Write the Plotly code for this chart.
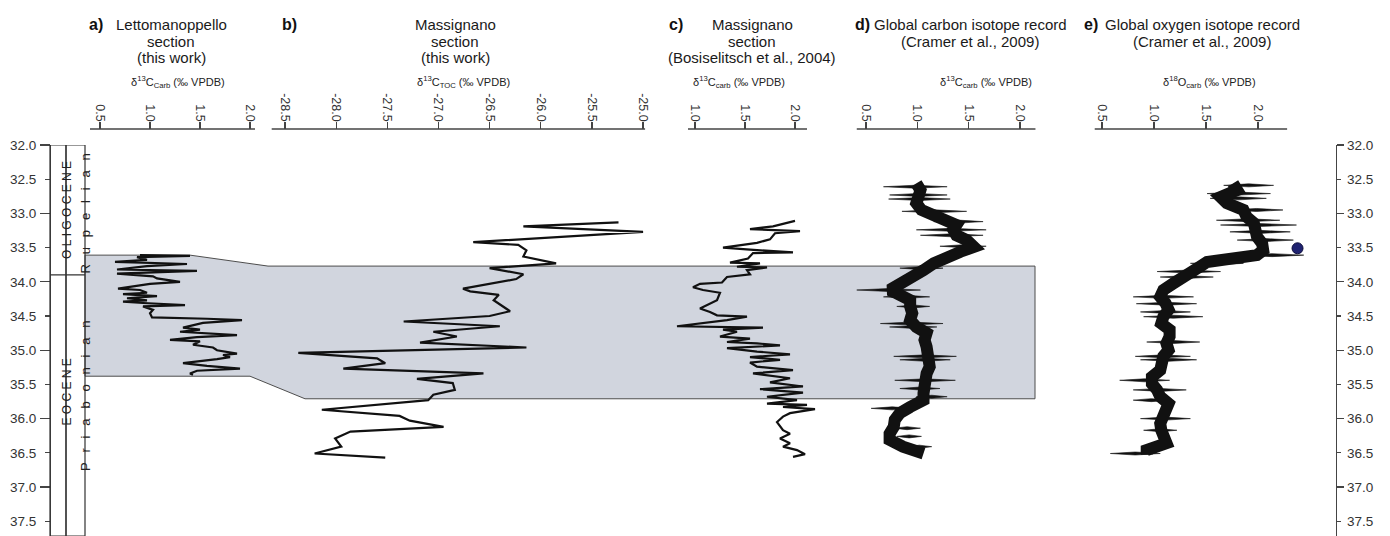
import plotly.graph_objects as go

# ---------------- data ----------------
depth_ticks = [32.0, 32.5, 33.0, 33.5, 34.0, 34.5, 35.0, 35.5, 36.0, 36.5, 37.0, 37.5]
depth_major = [32.0, 33.0, 34.0, 35.0, 36.0, 37.0]
depth_labels = ["32.0", "32.5", "33.0", "33.5", "34.0", "34.5", "35.0", "35.5", "36.0", "36.5", "37.0", "37.5"]

# a) Lettomanoppello d13C carb
lett_depth = [33.61, 33.62, 33.64, 33.68, 33.71, 33.72, 33.74, 33.77, 33.82, 33.84, 33.86, 33.88,
              33.92, 33.95, 34.00, 34.03, 34.10, 34.12, 34.16, 34.18, 34.21, 34.24, 34.27, 34.29,
              34.31, 34.34, 34.36, 34.41, 34.46, 34.52, 34.54, 34.56, 34.60, 34.67, 34.70, 34.73,
              34.78, 34.81, 34.85, 34.87, 34.92, 34.96, 35.00, 35.05, 35.07, 35.10, 35.13, 35.19,
              35.23, 35.27, 35.30, 35.34, 35.36]
lett_d13c = [0.90, 1.40, 0.87, 0.97, 0.65, 0.93, 1.37, 0.97, 0.67, 1.47, 1.07, 0.67,
             1.03, 1.07, 1.30, 1.00, 0.68, 0.90, 0.97, 0.73, 1.07, 0.77, 0.97, 0.73,
             0.93, 1.35, 0.93, 1.03, 1.00, 1.02, 1.57, 1.92, 1.53, 1.33, 1.50, 1.30,
             1.87, 1.47, 1.20, 1.50, 1.43, 1.63, 1.67, 1.87, 1.73, 1.80, 1.67, 1.33,
             1.57, 1.90, 1.47, 1.40, 1.43]

# b) Massignano d13C TOC
mass_depth = [33.13, 33.19, 33.27, 33.42, 33.46, 33.54, 33.63, 33.73, 33.80, 33.89, 33.96, 34.10,
              34.14, 34.19, 34.27, 34.43, 34.50, 34.58, 34.65, 34.73, 34.80, 34.89, 34.96, 35.04,
              35.12, 35.19, 35.27, 35.34, 35.42, 35.48, 35.58, 35.65, 35.73, 35.87, 35.96, 36.03,
              36.12, 36.19, 36.29, 36.41, 36.51, 36.57]
mass_d13c_toc = [-25.24, -26.17, -25.00, -26.66, -26.22, -26.14, -26.17, -25.85, -26.50, -26.17, -26.24, -26.76,
                 -26.69, -26.41, -26.46, -26.30, -26.50, -27.34, -26.40, -27.05, -26.82, -27.18, -26.14, -28.37,
                 -27.60, -27.52, -27.93, -26.56, -27.21, -26.86, -26.84, -27.05, -27.10, -28.14, -27.38, -27.28,
                 -26.95, -27.86, -28.01, -27.95, -28.21, -27.52]

# c) Massignano d13C carb (Bosiselitsch et al., 2004)
bosi_depth = [33.11, 33.19, 33.23, 33.26, 33.29, 33.38, 33.43, 33.50, 33.53, 33.57, 33.58, 33.66,
              33.72, 33.73, 33.78, 33.79, 33.83, 33.89, 33.93, 34.01, 34.03, 34.08, 34.12, 34.16,
              34.27, 34.39, 34.44, 34.49, 34.51, 34.56, 34.65, 34.67, 34.70, 34.73, 34.80, 34.83,
              34.88, 34.90, 34.93, 34.97, 35.02, 35.06, 35.10, 35.14, 35.18, 35.24, 35.29, 35.34,
              35.41, 35.47, 35.53, 35.57, 35.62, 35.68, 35.73, 35.78, 35.80, 35.83, 35.86, 35.92,
              35.97, 36.05, 36.17, 36.22, 36.29, 36.36, 36.41, 36.46, 36.52, 36.56]
bosi_d13c = [2.00, 1.78, 1.55, 2.05, 1.80, 1.75, 1.62, 1.28, 1.55, 1.98, 1.58, 1.53,
             1.35, 1.65, 1.42, 1.72, 1.52, 1.55, 1.32, 1.27, 1.05, 0.98, 1.08, 1.25,
             1.22, 1.05, 1.15, 1.22, 1.52, 1.32, 0.82, 1.68, 1.28, 1.42, 1.25, 1.55,
             1.32, 1.62, 1.85, 1.32, 1.62, 1.95, 1.55, 1.85, 1.55, 1.62, 1.98, 1.58,
             1.95, 1.75, 2.08, 1.65, 2.08, 1.72, 2.02, 1.72, 2.12, 1.88, 2.20, 1.95,
             1.88, 1.82, 1.88, 1.95, 1.85, 1.95, 1.88, 2.02, 2.10, 1.98]

# d) Global carbon isotope record (Cramer et al., 2009): dense core + excursions
cramc_depth = [32.56, 32.66, 32.76, 32.85, 32.95, 33.02, 33.10, 33.17, 33.24, 33.32, 33.39, 33.49,
               33.56, 33.63, 33.73, 33.83, 33.93, 34.02, 34.12, 34.17, 34.27, 34.36, 34.46, 34.56,
               34.66, 34.75, 34.85, 34.95, 35.05, 35.14, 35.24, 35.34, 35.44, 35.53, 35.63, 35.73,
               35.83, 35.92, 36.02, 36.12, 36.22, 36.31, 36.41, 36.51]
cramc_d13c = [0.99, 1.03, 1.01, 0.99, 1.04, 1.16, 1.29, 1.38, 1.35, 1.38, 1.48, 1.55,
              1.42, 1.29, 1.16, 1.06, 0.96, 0.88, 0.73, 0.80, 0.93, 0.93, 0.95, 0.93,
              0.99, 1.09, 1.07, 1.09, 1.11, 1.11, 1.12, 1.09, 1.09, 1.07, 1.06, 1.06,
              0.93, 0.83, 0.78, 0.77, 0.73, 0.73, 0.86, 1.06]
cramc_spk_depth = [32.61, 32.73, 32.79, 32.97, 33.12, 33.24, 33.32, 33.48, 33.80, 34.12, 34.22, 34.36,
                   34.61, 34.66, 35.09, 35.14, 35.44, 35.56, 35.68, 35.85, 36.14, 36.26, 36.41]
cramc_spk_min = [0.67, 0.73, 0.72, 0.85, 1.16, 0.99, 1.03, 1.22, 0.83, 0.41, 0.67, 0.80,
                 0.64, 0.73, 0.77, 0.83, 0.78, 0.83, 0.99, 0.55, 0.77, 0.80, 0.90]
cramc_spk_max = [1.29, 1.29, 1.32, 1.48, 1.64, 1.67, 1.64, 1.67, 1.25, 1.03, 1.12, 1.12,
                 1.25, 1.19, 1.38, 1.32, 1.37, 1.22, 1.29, 0.96, 1.03, 1.04, 1.14]

# e) Global oxygen isotope record (Cramer et al., 2009)
cramo_depth = [32.56, 32.66, 32.76, 32.85, 32.95, 33.05, 33.14, 33.24, 33.34, 33.44, 33.54, 33.61,
               33.66, 33.71, 33.78, 33.85, 33.93, 34.02, 34.12, 34.22, 34.31, 34.41, 34.51, 34.61,
               34.70, 34.80, 34.90, 35.00, 35.09, 35.19, 35.29, 35.39, 35.49, 35.58, 35.68, 35.78,
               35.87, 35.97, 36.07, 36.17, 36.26, 36.36, 36.46, 36.53]
cramo_d18o = [1.76, 1.80, 1.64, 1.70, 1.86, 1.89, 1.96, 1.97, 1.99, 2.04, 2.05, 1.99,
              1.73, 1.51, 1.44, 1.35, 1.25, 1.19, 1.09, 1.06, 1.11, 1.14, 1.09, 1.07,
              1.15, 1.15, 1.12, 1.14, 1.09, 1.07, 1.06, 0.98, 0.98, 1.03, 1.06, 1.14,
              1.11, 1.09, 1.06, 1.07, 1.11, 1.12, 0.93, 0.93]
cramo_spk_depth = [32.59, 32.71, 32.78, 32.95, 33.10, 33.17, 33.27, 33.39, 33.61, 33.66, 33.73, 33.85,
                   33.93, 34.22, 34.32, 34.44, 34.51, 34.88, 35.09, 35.14, 35.44, 35.58, 35.73, 36.00,
                   36.17, 36.51]
cramo_spk_min = [1.67, 1.51, 1.54, 1.73, 1.60, 1.64, 1.73, 1.80, 1.83, 1.51, 1.35, 1.03,
                 1.06, 0.80, 0.83, 0.87, 0.90, 0.93, 0.82, 0.87, 0.67, 0.80, 0.80, 0.87,
                 0.90, 0.58]
cramo_spk_max = [2.15, 2.12, 2.08, 2.24, 2.21, 2.37, 2.31, 2.34, 2.44, 2.02, 1.86, 1.64,
                 1.57, 1.38, 1.41, 1.35, 1.47, 1.44, 1.35, 1.41, 1.15, 1.31, 1.15, 1.35,
                 1.22, 1.06]
eot_point_depth = [33.51]
eot_point_d18o = [2.38]

# stratigraphy / correlation band
epoch_boundary = 33.9
band_lett = [33.61, 35.38]      # top, base in Lettomanoppello
band_mass = [33.77, 35.71]      # top, base in Massignano / global records

# ---------------- layout helpers ----------------
W, H = 1390, 536
ML, MR, MT, MB = 50, 54, 129, 0
PW = W - ML - MR
PH = H - MT - MB
FONT = "Liberation Sans, Arial, sans-serif"
Y_BOTTOM = 37.716
Y_TOP = 32.0
YDOM = [0, (H - MB - 145) / PH]
SPIKE_HALF = 0.022   # half-thickness (in depth units) of the tapered excursion marks

def fx(px):
    return (px - ML) / PW

def fy(py):
    return (H - MB - py) / PH

fig = go.Figure()
LC = "#111111"

fig.add_trace(go.Scatter(x=lett_d13c, y=lett_depth, xaxis="x", yaxis="y", mode="lines",
                         line=dict(color=LC, width=2.2), hoverinfo="skip"))
fig.add_trace(go.Scatter(x=mass_d13c_toc, y=mass_depth, xaxis="x2", yaxis="y", mode="lines",
                         line=dict(color=LC, width=2.2), hoverinfo="skip"))
fig.add_trace(go.Scatter(x=bosi_d13c, y=bosi_depth, xaxis="x3", yaxis="y", mode="lines",
                         line=dict(color=LC, width=2.2), hoverinfo="skip"))


def spikes(depths, lo, hi):
    # tapered (diamond) excursion marks: thin at both tips, thicker in the middle
    xs, ys = [], []
    for d, a, b in zip(depths, lo, hi):
        m = (a + b) / 2
        xs += [a, m, b, m, a, None]
        ys += [d, d - SPIKE_HALF, d, d + SPIKE_HALF, d, None]
    return xs, ys

sx, sy = spikes(cramc_spk_depth, cramc_spk_min, cramc_spk_max)
fig.add_trace(go.Scatter(x=sx, y=sy, xaxis="x4", yaxis="y", mode="lines", fill="toself",
                         fillcolor=LC, line=dict(color=LC, width=0.6), hoverinfo="skip"))
fig.add_trace(go.Scatter(x=cramc_d13c, y=cramc_depth, xaxis="x4", yaxis="y", mode="lines",
                         line=dict(color=LC, width=12), hoverinfo="skip"))

sx, sy = spikes(cramo_spk_depth, cramo_spk_min, cramo_spk_max)
fig.add_trace(go.Scatter(x=sx, y=sy, xaxis="x5", yaxis="y", mode="lines", fill="toself",
                         fillcolor=LC, line=dict(color=LC, width=0.6), hoverinfo="skip"))
fig.add_trace(go.Scatter(x=cramo_d18o, y=cramo_depth, xaxis="x5", yaxis="y", mode="lines",
                         line=dict(color=LC, width=12), hoverinfo="skip"))
fig.add_trace(go.Scatter(x=eot_point_d18o, y=eot_point_depth, xaxis="x5", yaxis="y", mode="markers",
                         marker=dict(color="#1f2270", size=11, line=dict(color="#0b0b3a", width=1)),
                         hoverinfo="skip"))

# ---------------- axes ----------------
panels = [
    ("xaxis", (85, 262), [0.35, 2.12], [0.5, 1.0, 1.5, 2.0], [0.40, 2.05]),
    ("xaxis2", (262, 660), [-28.7248, -24.8343], [-28.5, -28.0, -27.5, -27.0, -26.5, -26.0, -25.5, -25.0], [-28.63, -24.98]),
    ("xaxis3", (660, 840), [0.65, 2.45], [1.0, 1.5, 2.0], [0.93, 2.12]),
    ("xaxis4", (840, 1060), [0.2468, 2.389], [0.5, 1.0, 1.5, 2.0], [0.41, 2.15]),
    ("xaxis5", (1060, 1336), [0.0962, 2.75], [0.5, 1.0, 1.5, 2.0], [0.43, 2.28]),
]
shapes = []
for name, (p0, p1), rng, tv, ext in panels:
    fig.layout[name] = dict(
        domain=[fx(p0), fx(p1)], range=rng, anchor="free", position=1.0, side="top",
        showgrid=False, zeroline=False, showline=False, ticks="outside", ticklen=7,
        tickwidth=1.2, tickcolor="#444", tickvals=tv, ticktext=["%.1f" % v for v in tv],
        tickangle=90, tickfont=dict(family=FONT, size=12.5, color="#333"), fixedrange=True,
        automargin=False, ticklabelstandoff=-4,
    )
    ref = "x" if name == "xaxis" else "x" + name[-1]
    shapes.append(dict(type="line", xref=ref, yref="paper", x0=ext[0], x1=ext[1], y0=1, y1=1,
                       line=dict(color="#444", width=1.4), layer="above"))

common_y = dict(range=[Y_BOTTOM, Y_TOP], domain=YDOM, showgrid=False, zeroline=False,
                fixedrange=True, automargin=False)
fig.update_layout(
    yaxis=dict(**common_y, anchor="free", position=0, side="left", showline=True, linecolor="#444",
               linewidth=1.4, ticks="outside", ticklen=5, tickwidth=1.2, tickcolor="#444",
               tickvals=depth_ticks, ticktext=depth_labels, ticklabelstandoff=6,
               tickfont=dict(family=FONT, size=13.5, color="#333")),
    yaxis3=dict(**common_y, overlaying="y", anchor="free", position=0, side="left", showline=False,
                ticks="outside", ticklen=10, tickwidth=1.2, tickcolor="#444", tickvals=depth_major,
                showticklabels=False),
    yaxis2=dict(**common_y, overlaying="y", anchor="free", position=1, side="right", showline=True,
                linecolor="#444", linewidth=1.4, ticks="outside", ticklen=4, tickwidth=1.2,
                tickcolor="#444", tickvals=depth_ticks, ticktext=depth_labels, ticklabelstandoff=3,
                tickfont=dict(family=FONT, size=13.5, color="#333")),
    yaxis4=dict(**common_y, overlaying="y", anchor="free", position=1, side="right", showline=False,
                ticks="outside", ticklen=7, tickwidth=1.2, tickcolor="#444", tickvals=depth_major,
                showticklabels=False),
)
# invisible traces so that the overlaid right-hand / long-tick axes are drawn
for ya in ["y2", "y3", "y4"]:
    fig.add_trace(go.Scatter(x=[None], y=[None], xaxis="x", yaxis=ya, mode="lines",
                             showlegend=False, hoverinfo="skip"))

# correlation band (below traces)
band_path = ("M {a},{t0} L {b},{t0} L {c},{t1} L {r},{t1} L {r},{b1} L {e},{b1} L {f},{b0} L {a},{b0} Z"
             .format(a=fx(85), b=fx(190), c=fx(268), r=fx(1035), e=fx(305), f=fx(250),
                     t0=band_lett[0], t1=band_mass[0], b0=band_lett[1], b1=band_mass[1]))
shapes.insert(0, dict(type="path", xref="paper", yref="y", path=band_path,
                      fillcolor="#d1d5de", line=dict(color="#4d4d4d", width=1), layer="below"))

# stratigraphic columns
for x0, x1 in [(50, 66), (66, 85)]:
    shapes.append(dict(type="rect", xref="paper", yref="y", x0=fx(x0), x1=fx(x1), y0=Y_TOP, y1=Y_BOTTOM,
                       line=dict(color="#333", width=1.2), fillcolor="rgba(0,0,0,0)", layer="above"))
shapes.append(dict(type="line", xref="paper", yref="y", x0=fx(50), x1=fx(85), y0=epoch_boundary,
                   y1=epoch_boundary, line=dict(color="#333", width=1.2), layer="above"))

NB = "\u00a0"
THIN = "\u2009"

def spaced(word, sep):
    return sep.join(list(word))

ann = []
colfont = dict(family=FONT, size=12, color="#222")
stagefont = dict(family=FONT, size=13, color="#222")
STAGE_SEP = NB + NB + THIN
ann.append(dict(text=spaced("OLIGOCENE", NB), x=fx(58), y=32.95, xref="paper", yref="y",
                textangle=-90, showarrow=False, font=colfont))
ann.append(dict(text=spaced("EOCENE", NB), x=fx(58), y=35.62, xref="paper", yref="y",
                textangle=-90, showarrow=False, font=colfont))
ann.append(dict(text=spaced("Rupelian", STAGE_SEP), x=fx(75.5), y=33.0, xref="paper", yref="y",
                textangle=-90, showarrow=False, font=stagefont))
ann.append(dict(text=spaced("Priabonian", STAGE_SEP), x=fx(75.5), y=35.67, xref="paper", yref="y",
                textangle=-90, showarrow=False, font=stagefont))

tfont = dict(family=FONT, size=15, color="#1a1a1a")
lfont = dict(family=FONT, size=16, color="#111")
afont = dict(family=FONT, size=11, color="#222")

def text(t, px, py, font):
    ann.append(dict(text=t, x=fx(px), y=fy(py), xref="paper", yref="paper", showarrow=False,
                    xanchor="center", yanchor="middle", font=font))

for lab, px in [("a)", 96), ("b)", 289), ("c)", 676), ("d)", 862), ("e)", 1091)]:
    text("<b>%s</b>" % lab, px, 24, lfont)

titles = [
    (171, ["Lettomanoppello", "section", "(this work)"]),
    (455, ["Massignano", "section", "(this work)"]),
    (752, ["Massignano", "section", "(Bosiselitsch et al., 2004)"]),
    (970, ["Global carbon isotope record", "(Cramer et al., 2009)"]),
    (1202, ["Global oxygen isotope record", "(Cramer et al., 2009)"]),
]
for px, lines in titles:
    for i, ln in enumerate(lines):
        text(ln, px, 24 + 17 * i, tfont)

axis_titles = [
    (178, "δ<sup>13</sup>C<sub>Carb</sub> (‰ VPDB)"),
    (463, "δ<sup>13</sup>C<sub>TOC</sub> (‰ VPDB)"),
    (739, "δ<sup>13</sup>C<sub>carb</sub> (‰ VPDB)"),
    (986, "δ<sup>13</sup>C<sub>carb</sub> (‰ VPDB)"),
    (1209, "δ<sup>18</sup>O<sub>carb</sub> (‰ VPDB)"),
]
for px, t in axis_titles:
    text(t, px, 82, afont)

fig.update_layout(
    template="none",
    width=W, height=H, margin=dict(l=ML, r=MR, t=MT, b=MB, pad=0, autoexpand=False),
    paper_bgcolor="white", plot_bgcolor="white", showlegend=False,
    shapes=shapes, annotations=ann, font=dict(family=FONT),
)

fig.write_html("out.html",
               config={"displayModeBar": False, "staticPlot": True},
               post_script="document.body.style.margin='0';document.body.style.padding='0';"
                           "document.body.style.overflow='hidden';")
